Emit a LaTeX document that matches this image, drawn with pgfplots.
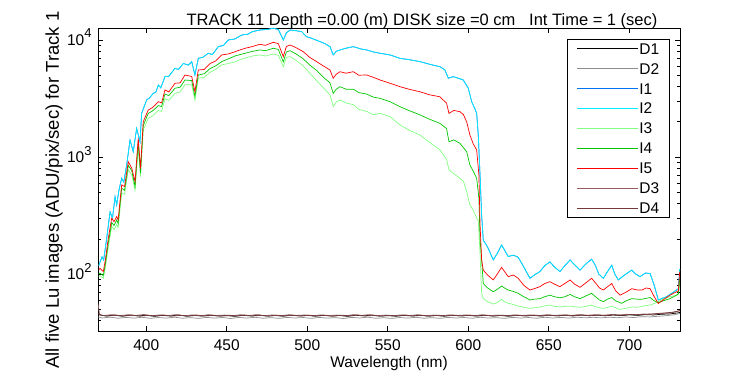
\documentclass[border=0pt]{standalone}
\usepackage{pgfplots}
\pgfplotsset{compat=1.18}
\usepackage{pgfplotstable}
\usepackage{fontspec}
\setmainfont{Liberation Sans}
\definecolor{cI1}{rgb}{0,0.45,0.95}
\definecolor{cI2}{rgb}{0,0.92,1}
\definecolor{cI3}{rgb}{0.5,1,0.5}
\definecolor{cI4}{rgb}{0,0.78,0}
\definecolor{cI5}{rgb}{1,0,0}
\definecolor{cD2}{rgb}{0.55,0.55,0.55}
\definecolor{cD3}{rgb}{0.58,0.36,0.36}
\definecolor{cD4}{rgb}{0.45,0.22,0.22}
\newcommand{\fs}{\fontsize{15.5bp}{18bp}\selectfont}
\pgfplotstableread{
x y
370.5 118
371.2 126
372.5 140
373.5 132
375.4 202
377.5 340
379 300
380.6 458
381.6 389
383 520
384.7 658
386 610
387.8 855
389.9 1396
391.9 1109
394 1757
396.1 1350
397.1 2360
400.2 3070
402 3200
404.3 3500
406 3600
407.5 4120
409 3900
411.6 4860
414 4900
417.8 5730
420 5600
423 6300
426 6100
428.2 6530
430.2 5020
432.3 6970
435 7100
438.5 7700
441 7500
444.7 8770
448 9000
450.9 10000
455 10200
459.3 11030
463 11200
466 11800
470.6 12170
475 12300
478.9 12600
482 12300
485.1 10000
487 11500
489.3 12170
493 12000
496.5 11780
499.6 10670
503 10300
507.9 9680
511 9300
514.1 8770
516.1 7450
518 8000
520.3 8220
524 8500
528.6 8770
533 8400
536.9 8220
541 7900
545.2 7700
551.4 7450
557.6 6970
563 6800
570 6530
576 6200
582.4 5910
585.5 5540
587.6 4710
590.7 4860
594 4700
596.9 4550
600 3870
602.1 2970
604 2600
605.2 2360
606.2 1540
607.3 701
608.3 319
609.3 195
612 170
615.5 132
618 150
620.7 177
624.8 141
628 145
631 139
634 118
638.3 92
641 98
644.5 105
647.5 118
650.7 127
653.5 115
656.9 105
660 118
663.2 132
666 120
669.4 108
673 122
676.6 134
679 118
681 100
683.9 92
686.5 105
689.1 119
691 100
693.2 89
697 98
701.5 108
704 100
706.6 95
710 102
712.9 101
715.5 80
718 60
720.5 62
723.2 64
726 68
729.4 73
730.5 75
731.3 110
}\tabItwo
\begin{document}
\begin{tikzpicture}
\useasboundingbox (0bp,0bp) rectangle (750bp,375bp);
\begin{axis}[
  at={(98bp,44bp)}, anchor=south west,
  scale only axis, width=582bp, height=303bp,
  ymode=log,
  xmin=370, xmax=731.5, ymin=32.6, ymax=12660,
  axis line style={black, line width=0.6bp},
  tick align=inside,
  major tick length=5bp, minor tick length=3bp,
  tick style={black, line width=0.6bp},
  xtick={400,450,500,550,600,650,700},
  xticklabels={400,450,500,550,600,650,700},
  ytick={100,1000,10000},
  yticklabels={10\raisebox{7.5bp}{\fontsize{13bp}{13bp}\selectfont 2},10\raisebox{7.5bp}{\fontsize{13bp}{13bp}\selectfont 3},10\raisebox{7.5bp}{\fontsize{13bp}{13bp}\selectfont 4}},
  minor ytick={40,50,60,70,80,90,200,300,400,500,600,700,800,900,2000,3000,4000,5000,6000,7000,8000,9000},
  xticklabel style={font=\fs, anchor=base, yshift=-20bp},
  yticklabel style={font=\fs, anchor=base east, yshift=-5.5bp, xshift=-3bp},
  legend cell align=left,
  legend image code/.code={\draw[#1] (0bp,0bp) -- (61bp,0bp);},
  legend style={at={(1,1)}, anchor=north east, xshift=-10bp, yshift=-11bp,
    font=\fs, draw=black, line width=0.6bp, inner xsep=9.5bp, inner ysep=3bp,
    nodes={inner sep=1bp, text height=11bp, text depth=0bp},
    row sep=6.9bp},
]
\addplot[black, line width=0.7bp] coordinates {
(370,45) (375,43.8) (380,44.5) (385,43.6) (390,44.6) (395,43.9) (400,44.4) (405,43.5) (410,44.3) (415,43.8) (420,44.7) (425,43.6) (430,44.2) (435,43.7) (440,44.5) (445,43.9) (450,44.1) (455,43.5) (460,44.4) (465,43.8) (470,44.6) (475,43.7) (480,44.2) (485,43.6) (490,44.5) (495,43.9) (500,44.3) (505,43.6) (510,44.4) (515,43.8) (520,44.2) (525,43.5) (530,44.4) (535,43.9) (540,44.6) (545,43.7) (550,44.1) (555,43.6) (560,44.3) (565,43.8) (570,44.5) (575,43.7) (580,44.2) (585,43.6) (590,44.4) (595,43.9) (600,44.3) (605,43.7) (610,44.5) (615,43.8) (620,44.2) (625,43.6) (630,44.4) (635,43.9) (640,44.3) (645,43.7) (650,44.5) (655,43.9) (660,44.4) (665,43.8) (670,44.6) (675,44.0) (680,44.5) (685,44.0) (690,44.6) (695,44.1) (700,44.8) (705,44.3) (710,45.0) (715,44.7) (720,45.3) (725,45.6) (730,46.5) (731.5,47)
};
\addlegendentry{D1}
\addplot[cD2, line width=0.7bp] coordinates {
(370,43) (372.5,42.1) (377.5,42.8) (382.5,41.9) (387.5,42.6) (392.5,42.0) (397.5,42.7) (402.5,41.8) (407.5,42.5) (412.5,42.0) (417.5,42.8) (422.5,41.9) (427.5,42.4) (432.5,41.8) (437.5,42.6) (442.5,42.0) (447.5,42.5) (452.5,41.7) (457.5,42.6) (462.5,42.0) (467.5,42.7) (472.5,41.9) (477.5,42.4) (482.5,41.8) (487.5,42.6) (492.5,42.1) (497.5,42.5) (502.5,41.8) (507.5,42.6) (512.5,42.0) (517.5,42.4) (522.5,41.7) (527.5,42.6) (532.5,42.1) (537.5,42.8) (542.5,41.9) (547.5,42.3) (552.5,41.8) (557.5,42.5) (562.5,42.0) (567.5,42.7) (572.5,41.9) (577.5,42.4) (582.5,41.8) (587.5,42.6) (592.5,42.1) (597.5,42.5) (602.5,41.9) (607.5,42.7) (612.5,42.0) (617.5,42.4) (622.5,41.8) (627.5,42.6) (632.5,42.1) (637.5,42.5) (642.5,41.9) (647.5,42.7) (652.5,42.1) (657.5,42.6) (662.5,42.0) (667.5,42.8) (672.5,42.2) (677.5,42.7) (682.5,42.2) (687.5,42.8) (692.5,42.3) (697.5,43.0) (702.5,42.5) (707.5,43.2) (712.5,43.0) (717.5,43.5) (722.5,44.0) (727.5,44.8) (731.5,46)
};
\addlegendentry{D2}
\addplot[cI1, line width=0.7bp] table[x=x,y=y] {\tabItwo};
\addlegendentry{I1}
\addplot[cI2, line width=0.7bp] table[x=x,y=y] {\tabItwo};
\addlegendentry{I2}
\addplot[cI3, line width=0.7bp] coordinates {
(370.5,95) (371.2,97) (373.3,92) (374.5,112) (376.4,170) (378.5,255) (380,240) (381.6,265) (382.5,250) (384.7,490) (386.5,480) (388.8,780) (391,700) (393,520) (395,1200) (396.4,680) (398.1,1700) (401.2,2140) (404,2250) (407.5,2500) (409.5,2450) (411.6,3150) (414,3050) (417.8,3500) (421,3600) (424,4150) (428.2,4150) (430.2,3050) (432.3,4710) (436,4800) (439.6,5300) (443,5600) (446.8,6120) (451,6300) (455.1,6500) (458.2,6800) (461.3,7000) (466,7300) (470.6,7450) (474,7300) (478.9,7600) (482,7400) (485.1,5900) (487,7100) (489.3,7200) (493,6700) (497.5,6000) (501.5,5200) (505.8,4500) (510,3900) (514.1,3400) (516.1,2700) (518,2950) (520.3,3070) (524,2900) (528.6,2800) (532,2550) (536.9,2450) (541,2300) (545.2,2360) (551.4,2210) (557.6,1880) (563,1700) (570,1540) (576,1330) (582.4,1150) (586.5,960) (588,774) (591,720) (594.8,658) (597,620) (599,505) (601,389) (603,352) (605.2,300) (606.2,288) (607.3,150) (608.3,68.4) (609.3,61.6) (612,58) (615.5,55.4) (618,57) (620.7,60.8) (622.5,58) (624.8,56.2) (628,55) (631,53.2) (634.5,52) (638.3,50.9) (641,51.5) (644.5,52.3) (647.5,53.5) (650.7,54.3) (653.5,53) (656.9,52.3) (660,53) (663.2,53.2) (666,52.5) (669.4,51.9) (673,53) (676.6,54.3) (679,52.5) (681.5,51.5) (683.9,50.9) (686.5,52) (689.1,53.2) (691.5,51.5) (694,49.9) (698,51) (701.5,52.3) (705,52) (708,53) (710.5,54) (712.9,54.3) (715.5,56) (718,58.1) (721,61) (725.3,64) (729.4,66) (730.5,67) (731.3,85)
};
\addlegendentry{I3}
\addplot[cI4, line width=0.7bp] coordinates {
(370.5,100) (371.2,102) (373.3,97) (374.5,120) (376.4,185) (378.5,275) (380,260) (381.6,290) (382.5,270) (384.7,540) (386.5,520) (388.8,850) (391,760) (393,560) (395,1330) (396.4,730) (398.1,1850) (401.2,2360) (404,2480) (407.5,2750) (409.5,2700) (411.6,3450) (414,3350) (417.8,3870) (421,3950) (424,4550) (428.2,4500) (430.2,3300) (432.3,5020) (436,5150) (439.6,5700) (443,6000) (446.8,6530) (451,6900) (455.1,7300) (458.2,7500) (461.3,7700) (466,8000) (470.6,8220) (474,8100) (478.9,8500) (482,8300) (485.1,6500) (487,7900) (489.3,8100) (493,7600) (497.5,6900) (501.5,6100) (505.8,5500) (510,4800) (514.1,4300) (516.1,3500) (518,3800) (520.3,3990) (524,3800) (528.6,3800) (532,3550) (536.9,3450) (541,3250) (545.2,3170) (551.4,2970) (557.6,2690) (563,2500) (570,2290) (576,2100) (582.4,1940) (586.5,1750) (588,1350) (591,1400) (594.8,1310) (597,1200) (599,1110) (601,855) (603,760) (605.2,658) (606.6,444) (607.3,200) (608.3,132) (609.3,83) (612,76) (615.5,70.6) (618,74) (620.7,78.9) (622.5,76) (624.8,73) (628,71) (631,68.4) (634.5,64) (638.3,60) (641,61) (644.5,61.6) (647.5,64) (650.7,66) (653.5,64) (656.9,62.6) (660,64) (663.2,66.9) (666,64) (669.4,61.6) (673,65) (676.6,68.4) (679,64) (681.5,60) (683.9,58.1) (686.5,61) (689.1,63) (691.5,59) (695.3,56.2) (698,59) (701.5,61.6) (705,61) (708,61) (710.5,62) (712.9,63) (715.5,59) (718,56.9) (721,59) (725.3,61.6) (729.4,66) (730.5,68) (731.3,90)
};
\addlegendentry{I4}
\addplot[cI5, line width=0.7bp] coordinates {
(370.5,108) (371.2,112) (373.3,105) (374.5,130) (376.4,202) (378.5,300) (380,280) (381.6,310) (382.5,290) (384.7,577) (386.5,560) (388.8,912) (391,800) (393,617) (395,1450) (396.4,797) (398.1,2000) (401.2,2520) (404,2650) (407.5,2970) (409.5,2900) (411.6,3740) (414,3600) (417.8,4270) (421,4300) (424,5020) (428.2,4880) (430.2,3610) (432.3,5540) (436,5600) (439.6,6300) (443,6600) (446.8,7450) (451,7600) (455.1,7940) (458.2,8220) (461.3,8490) (466,8800) (470.6,9190) (474,9000) (478.9,9560) (482,9300) (485.1,7200) (487,8800) (489.3,9060) (493,8600) (497.5,7940) (501.5,7100) (505.8,6530) (510,6000) (514.1,5540) (516.1,4710) (518,5100) (520.3,5360) (524,5200) (528.6,5360) (532,5000) (536.9,5020) (541,4800) (545.2,4550) (551.4,4270) (557.6,3990) (563,3800) (570,3610) (576,3400) (582.4,3270) (586.5,2880) (588,2360) (591,2500) (594.8,2440) (597,2300) (599,2000) (601,1540) (603,1300) (605.2,1150) (606.6,700) (607.3,264) (608.3,132) (609.3,108) (612,98) (615.5,89) (618,100) (620.7,114) (622.5,105) (624.8,95) (628,98) (631,92) (634.5,80) (638.3,73) (641,75) (644.5,78) (647.5,83) (650.7,86) (653.5,82) (656.9,78) (660,83) (663.2,89) (666,82) (669.4,77) (673,84) (676.6,92) (679,84) (681.5,76) (683.9,73) (686.5,78) (689.1,83) (691.5,72) (694.2,66) (698,70) (701.5,75) (705,73) (708,73) (710.5,76) (712.9,75) (715.5,64) (718,56) (721,60) (725.3,66) (729.4,70.6) (730.5,72) (731.3,105)
};
\addlegendentry{I5}
\addplot[cD3, line width=0.7bp] coordinates {
(370,56) (371,45) (373.5,44.2) (378.5,45.0) (383.5,44.1) (388.5,44.9) (393.5,44.3) (398.5,45.1) (403.5,44.0) (408.5,44.8) (413.5,44.2) (418.5,45.0) (423.5,44.1) (428.5,44.7) (433.5,44.0) (438.5,44.9) (443.5,44.3) (448.5,44.6) (453.5,44.0) (458.5,44.9) (463.5,44.2) (468.5,45.0) (473.5,44.1) (478.5,44.7) (483.5,44.0) (488.5,44.9) (493.5,44.3) (498.5,44.7) (503.5,44.0) (508.5,44.8) (513.5,44.2) (518.5,44.6) (523.5,44.0) (528.5,44.9) (533.5,44.3) (538.5,45.0) (543.5,44.1) (548.5,44.6) (553.5,44.0) (558.5,44.8) (563.5,44.2) (568.5,44.9) (573.5,44.1) (578.5,44.6) (583.5,44.0) (588.5,44.8) (593.5,44.3) (598.5,44.7) (603.5,44.1) (608.5,44.9) (613.5,44.2) (618.5,44.6) (623.5,44.0) (628.5,44.8) (633.5,44.3) (638.5,44.7) (643.5,44.1) (648.5,44.9) (653.5,44.3) (658.5,44.8) (663.5,44.2) (668.5,45.0) (673.5,44.4) (678.5,44.9) (683.5,44.4) (688.5,45.1) (693.5,44.6) (698.5,45.3) (703.5,44.8) (708.5,45.5) (713.5,45.3) (718.5,45.8) (723.5,46.3) (728.5,47.2) (731.5,49)
};
\addlegendentry{D3}
\addplot[cD4, line width=0.7bp] coordinates {
(370,46) (372,44.4) (376,43.7) (381,44.6) (386,43.8) (391,44.5) (396,43.6) (401,44.4) (406,43.9) (411,44.6) (416,43.7) (421,44.3) (426,43.8) (431,44.7) (436,43.9) (441,44.2) (446,43.6) (451,44.5) (456,43.9) (461,44.6) (466,43.8) (471,44.3) (476,43.7) (481,44.5) (486,44.0) (491,44.4) (496,43.7) (501,44.5) (506,43.9) (511,44.3) (516,43.6) (521,44.5) (526,44.0) (531,44.7) (536,43.8) (541,44.2) (546,43.7) (551,44.4) (556,43.9) (561,44.6) (566,43.8) (571,44.3) (576,43.7) (581,44.5) (586,44.0) (591,44.4) (596,43.8) (601,44.6) (606,43.9) (611,44.3) (616,43.7) (621,44.5) (626,44.0) (631,44.4) (636,43.8) (641,44.6) (646,44.0) (651,44.5) (656,43.9) (661,44.7) (666,44.1) (671,44.6) (676,44.1) (681,44.7) (686,44.2) (691,44.9) (696,44.4) (701,45.1) (706,44.9) (711,45.4) (716,45.8) (721,46.4) (726,47.0) (731.5,48.5)
};
\addlegendentry{D4}
\end{axis}
\node[font=\fontsize{16.5bp}{19bp}\selectfont, anchor=base] at (422bp,349bp) {TRACK 11 Depth =0.00 (m) DISK size =0 cm \ \ Int Time = 1 (sec)};
\node[font=\fs, anchor=base] at (389bp,8bp) {Wavelength (nm)};
\node[font=\fontsize{18.5bp}{21bp}\selectfont, rotate=90, anchor=center] at (54bp,185bp) {All five Lu images (ADU/pix/sec) for Track 1};
\end{tikzpicture}
\end{document}
